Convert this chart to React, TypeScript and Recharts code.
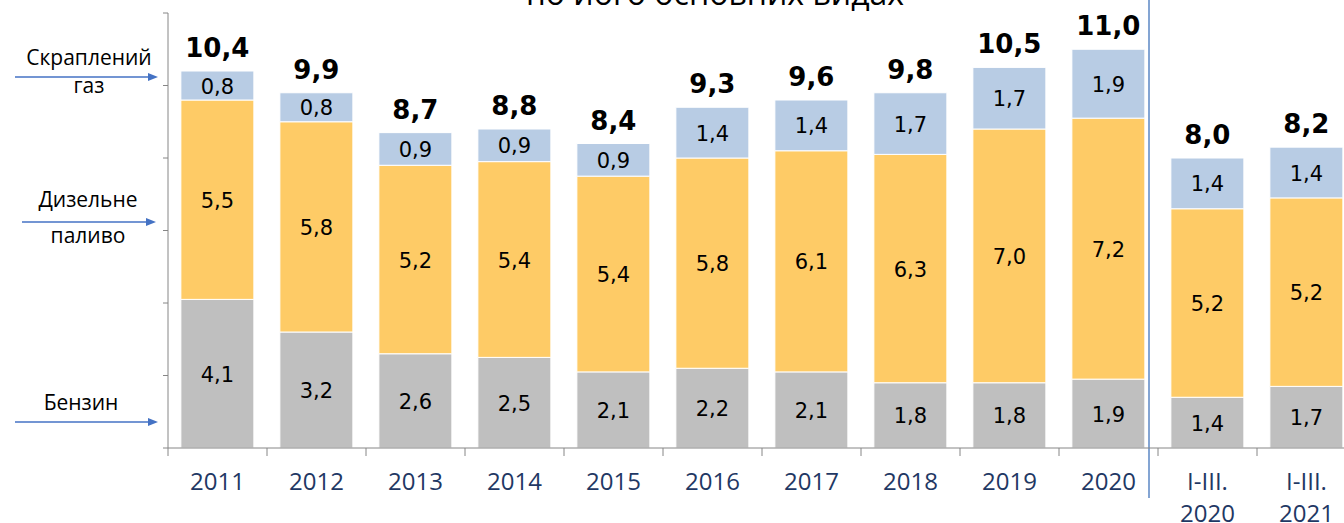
import React from "react"
import { Bar, BarChart, XAxis, YAxis, LabelList, ReferenceLine } from "recharts"

const categories = ["2011", "2012", "2013", "2014", "2015", "2016", "2017", "2018", "2019", "2020", "I-III.\n2020", "I-III.\n2021"]
const petrol = [4.1, 3.2, 2.6, 2.5, 2.1, 2.2, 2.1, 1.8, 1.8, 1.9, 1.4, 1.7]
const diesel = [5.5, 5.8, 5.2, 5.4, 5.4, 5.8, 6.1, 6.3, 7.0, 7.2, 5.2, 5.2]
const lpg = [0.8, 0.8, 0.9, 0.9, 0.9, 1.4, 1.4, 1.7, 1.7, 1.9, 1.4, 1.4]
const totals = [10.4, 9.9, 8.7, 8.8, 8.4, 9.3, 9.6, 9.8, 10.5, 11.0, 8.0, 8.2]
const yTicks = [0, 2, 4, 6, 8, 10, 12]

const data = categories.map((name, i) => ({
  name,
  petrol: petrol[i],
  diesel: diesel[i],
  lpg: lpg[i],
  total: totals[i],
}))

const CHART_W = 1400
const CHART_H = 523
const X_AXIS_H = 40
const Y_AXIS_W = 6
const MARGIN = { top: 13, right: 44, left: 168 - Y_AXIS_W, bottom: 75 - X_AXIS_H }
const CAT_W = (CHART_W - 168 - MARGIN.right) / categories.length

const AXIS_COLOR = "#868686"
const fmt = (v: any) => Number(v).toFixed(1).replace(".", ",")

function XTick(props: any) {
  const { x, y, payload } = props
  const lines = String(payload.value).split("\n")
  const left = x - CAT_W / 2
  return (
    <g>
      <line x1={left} y1={y} x2={left} y2={y + 8} stroke={AXIS_COLOR} strokeWidth={1} />
      <text textAnchor="middle" fill="#1F3864" fontFamily="Open Sans" fontSize={24}>
        {lines.map((l, i) => (
          <tspan key={i} x={x} y={y + 42 + i * 32}>{l}</tspan>
        ))}
      </text>
    </g>
  )
}

function SegLabel(props: any) {
  const { x, y, width, height, value } = props
  return (
    <text
      x={x + width / 2}
      y={y + height / 2 + 8}
      textAnchor="middle"
      fill="#000"
      fontFamily="DejaVu Sans"
      fontSize={21}
    >
      {fmt(value)}
    </text>
  )
}

function TotalLabel(props: any) {
  const { x, y, width, value } = props
  return (
    <text
      x={x + width / 2}
      y={y - 14}
      textAnchor="middle"
      fill="#000"
      fontFamily="DejaVu Sans"
      fontWeight={700}
      fontSize={26}
    >
      {fmt(value)}
    </text>
  )
}

function Arrow({ x1, x2, y }: { x1: number; x2: number; y: number }) {
  return (
    <g>
      <line x1={x1} y1={y} x2={x2 - 8} y2={y} stroke="#4472C4" strokeWidth={1.3} />
      <path d={`M${x2 - 10},${y - 4} L${x2},${y} L${x2 - 10},${y + 4} Z`} fill="#4472C4" />
    </g>
  )
}

export default function App() {
  return (
    <div style={{ position: "fixed", left: 0, top: 0, width: 1344, height: 523, overflow: "hidden", background: "#fff" }}>
      <BarChart width={CHART_W} height={CHART_H} data={data} margin={MARGIN} barCategoryGap="13%">
        <XAxis
          dataKey="name"
          height={X_AXIS_H}
          tickSize={0}
          tickMargin={0}
          tickLine={false}
          axisLine={{ stroke: AXIS_COLOR }}
          interval={0}
          tick={<XTick />}
        />
        <YAxis
          width={Y_AXIS_W}
          domain={[0, 12]}
          ticks={yTicks}
          tickSize={5}
          tickLine={{ stroke: AXIS_COLOR }}
          axisLine={{ stroke: AXIS_COLOR }}
          tick={() => <g />}
        />
        <Bar dataKey="petrol" stackId="a" fill="#BFBFBF" stroke="#fff" strokeWidth={1} isAnimationActive={false}>
          <LabelList dataKey="petrol" content={<SegLabel />} />
        </Bar>
        <Bar dataKey="diesel" stackId="a" fill="#FECB66" stroke="#fff" strokeWidth={1} isAnimationActive={false}>
          <LabelList dataKey="diesel" content={<SegLabel />} />
        </Bar>
        <Bar dataKey="lpg" stackId="a" fill="#B8CCE4" stroke="#fff" strokeWidth={1} isAnimationActive={false}>
          <LabelList dataKey="lpg" content={<SegLabel />} />
          <LabelList dataKey="total" content={<TotalLabel />} />
        </Bar>
        <ReferenceLine
          x="2020"
          position="end"
          ifOverflow="visible"
          shape={(p: any) => (
            <line x1={p.x1 - 9} x2={p.x2 - 9} y1={0} y2={498} stroke="#5B87C5" strokeWidth={1.5} />
          )}
        />
      </BarChart>
      <svg width={1344} height={523} style={{ position: "absolute", left: 0, top: 0, pointerEvents: "none" }}>
        <text x={715} y={5} textAnchor="middle" fontFamily="Open Sans" fontSize={32} fill="#000">
          по його основних видах
        </text>
        <g fontFamily="Open Sans" fontSize={21} fill="#000" textAnchor="middle">
          <text x={89} y={65}>Скраплений</text>
          <text x={89} y={93}>газ</text>
          <text x={88} y={207}>Дизельне</text>
          <text x={88} y={243}>паливо</text>
          <text x={81} y={410}>Бензин</text>
        </g>
        <Arrow x1={15} x2={158} y={77} />
        <Arrow x1={22} x2={156} y={222} />
        <Arrow x1={15} x2={158} y={422} />
      </svg>
    </div>
  )
}
